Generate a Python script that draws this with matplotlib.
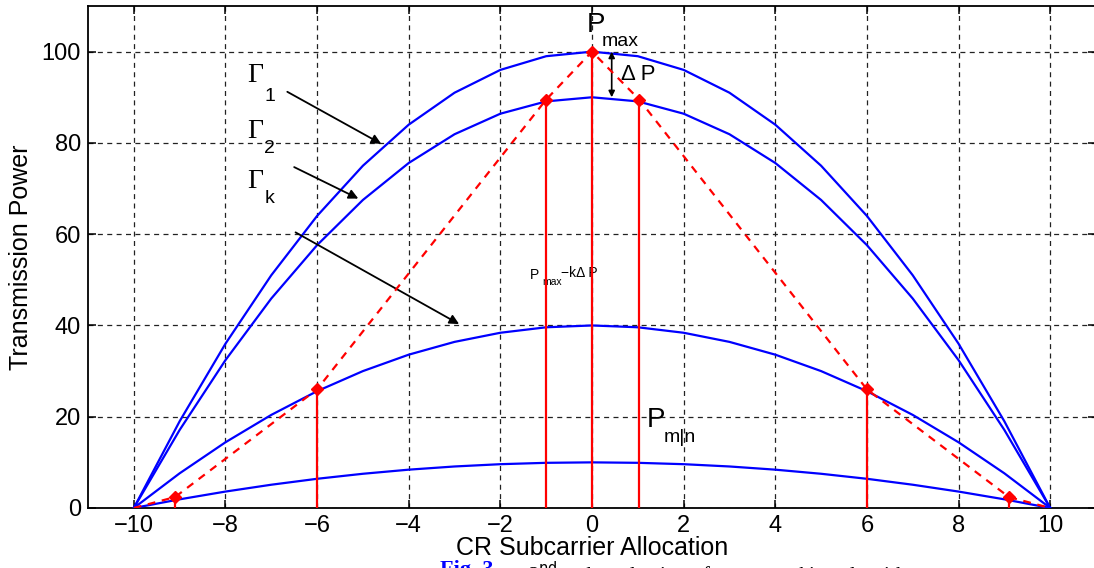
import matplotlib.pyplot as plt

# subcarrier index and power curves
x = list(range(-10, 11))
gamma1 = [0, 19, 36, 51, 64, 75, 84, 91, 96, 99, 100, 99, 96, 91, 84, 75, 64, 51, 36, 19, 0]
gamma2 = [0, 17.1, 32.4, 45.9, 57.6, 67.5, 75.6, 81.9, 86.4, 89.1, 90,
          89.1, 86.4, 81.9, 75.6, 67.5, 57.6, 45.9, 32.4, 17.1, 0]
gammak = [0, 7.6, 14.4, 20.4, 25.6, 30, 33.6, 36.4, 38.4, 39.6, 40,
          39.6, 38.4, 36.4, 33.6, 30, 25.6, 20.4, 14.4, 7.6, 0]
pmin = [0, 1.9, 3.6, 5.1, 6.4, 7.5, 8.4, 9.1, 9.6, 9.9, 10,
        9.9, 9.6, 9.1, 8.4, 7.5, 6.4, 5.1, 3.6, 1.9, 0]

# ranking path (red dashed) and its selected points
path_x = [-10, -9.1, -6, -1, 0, 1.03, 6, 9.1, 10]
path_y = [0, 2.4, 26, 89.5, 100, 89.5, 26, 2.4, 0]
sel_x = [-9.1, -6, -1, 0, 1.03, 6, 9.1]
sel_y = [2.4, 26, 89.5, 100, 89.5, 26, 2.4]

xticks = [-10, -8, -6, -4, -2, 0, 2, 4, 6, 8, 10]
yticks = [0, 20, 40, 60, 80, 100]

plt.rcParams['font.family'] = ['Liberation Sans', 'DejaVu Sans']

fig = plt.figure(figsize=(10.94, 5.68), dpi=100)
ax = fig.add_axes([88 / 1094, 1 - 508 / 568, (1096 - 88) / 1094, 502 / 568])

for c in [gamma1, gamma2, gammak, pmin]:
    ax.plot(x, c, color='blue', lw=1.6, zorder=3)

ax.plot(path_x, path_y, color='red', lw=1.6, ls=(0, (3.5, 3)), zorder=4)
ax.vlines(sel_x, 0, sel_y, color='red', lw=1.6, zorder=4)
ax.plot(sel_x, sel_y, ls='none', marker='D', ms=6.5, color='red', zorder=5)

ax.set_xlim(-11, 11)
ax.set_ylim(0, 110)
ax.set_xticks(xticks)
ax.set_yticks(yticks)
ax.grid(True, color='#222222', ls=(0, (4, 3.5)), lw=0.9)
ax.tick_params(direction='in', length=6, width=1.1, top=True, right=True,
               labelsize=17, pad=5)
for s in ax.spines.values():
    s.set_linewidth(1.3)

ax.set_xlabel('CR Subcarrier Allocation', fontsize=18, labelpad=-1)
ax.set_ylabel('Transmission Power', fontsize=18, labelpad=6)

# gamma labels and arrows
serif = ['Liberation Serif', 'DejaVu Serif']
for gx, gy, sub, sy in [(-7.35, 94.7, '1', 90.2), (-7.35, 82.5, '2', 78.8), (-7.35, 71.5, 'k', 67.8)]:
    ax.text(gx, gy, 'Γ', family=serif, fontsize=20, ha='center', va='center')
    ax.text(gx + 0.2, sy, sub, fontsize=14, ha='left', va='center')

arrows = [((-6.65, 91.2), (-4.6, 79.8)),
          ((-6.5, 74.7), (-5.1, 67.8)),
          ((-6.47, 60.4), (-2.9, 40.3))]
for (x0, y0), (x1, y1) in arrows:
    ax.annotate('', xy=(x1, y1), xytext=(x0, y0),
                arrowprops=dict(arrowstyle='-|>', color='black', lw=1.3,
                                mutation_scale=14, shrinkA=0, shrinkB=0))

# P_max and delta P
ax.text(-0.12, 105.9, 'P', fontsize=20, ha='left', va='center')
ax.text(0.21, 102.3, 'max', fontsize=14, ha='left', va='center')
ax.annotate('', xy=(0.43, 90), xytext=(0.43, 100),
            arrowprops=dict(arrowstyle='<|-|>', color='black', lw=1.2,
                            mutation_scale=9, shrinkA=0, shrinkB=0))
ax.text(0.63, 95, 'Δ P', fontsize=16, ha='left', va='center')

# P_max - k delta P
ax.text(-1.35, 51.1, 'P', fontsize=10, ha='left', va='center')
ax.text(-1.08, 49.6, 'max', fontsize=7.5, ha='left', va='center')
ax.text(-0.68, 51.6, '−kΔ P', fontsize=10, ha='left', va='center')

# P_min
ax.text(1.19, 19.3, 'P', fontsize=20, ha='left', va='center')
ax.text(1.56, 15.4, 'm|n', fontsize=14, ha='left', va='center')

# figure caption, cut off at the bottom of the image
fig.text(440 / 1094, 1 - 559.5 / 568, 'Fig. 3.', color='blue', fontweight='bold',
         family=serif, fontsize=16, va='top', ha='left')
fig.text(528 / 1094, 1 - 559.5 / 568, '2$^{\\rm nd}$ order selection of power ranking algorithm',
         family=serif, fontsize=15, va='top', ha='left')

fig.savefig('out.png', dpi=100)
